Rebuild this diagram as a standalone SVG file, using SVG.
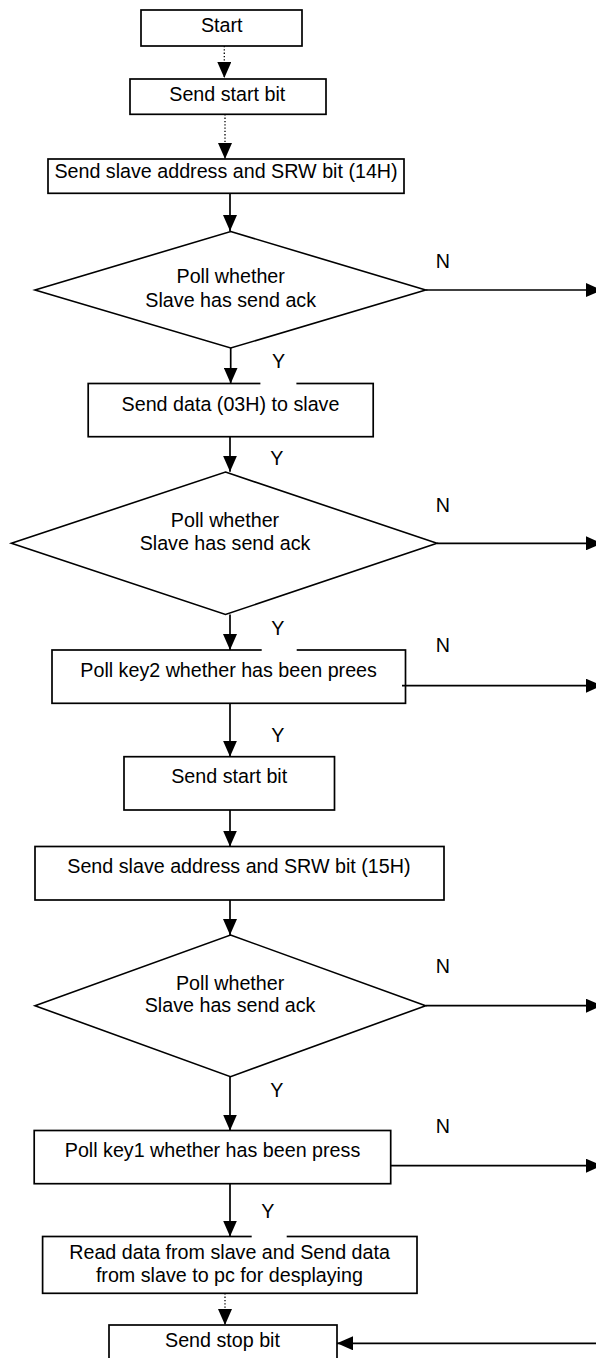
<svg xmlns="http://www.w3.org/2000/svg" width="596" height="1358" viewBox="0 0 596 1358">
<style>
.box{fill:#fff;stroke:#000;stroke-width:1.7}
.dia{fill:#fff;stroke:#000;stroke-width:1.6}
.t{font-family:"Liberation Sans",Arial,sans-serif;font-size:19.7px;fill:#000;text-anchor:middle}
.ln{fill:none;stroke:#000;stroke-width:1.7;marker-end:url(#ah)}
.dot{fill:none;stroke:#000;stroke-width:1.3;stroke-dasharray:1.3 2;marker-end:url(#ah)}
.gap{fill:#fff}
</style>
<defs>
<marker id="ah" markerUnits="userSpaceOnUse" markerWidth="16" markerHeight="14" refX="16" refY="7" orient="auto">
<path d="M0,0 L16,7 L0,14 z" fill="#000"/>
</marker>
</defs>
<rect width="596" height="1358" fill="#fff"/>
<g id="n-start"><rect class="box" x="141" y="10" width="161" height="36"/><text class="t" x="221.7" y="31.7">Start</text></g>
<g id="n-startbit1"><rect class="box" x="130" y="79" width="196" height="35.3"/><text class="t" x="227.3" y="100.7">Send start bit</text></g>
<g id="n-addr14"><rect class="box" x="48" y="159" width="356" height="34.3"/><text class="t" x="226" y="178.3">Send slave address and SRW bit (14H)</text></g>
<g id="n-ack1"><polygon class="dia" points="230.7,231.5 425.7,290 230.7,348 35,290"/><text class="t" x="230.7" y="283.3">Poll whether</text><text class="t" x="230.7" y="306.7">Slave has send ack</text></g>
<g id="n-data"><rect class="box" x="88.2" y="383.5" width="285" height="53.2"/><text class="t" x="230.5" y="410.7">Send data (03H) to slave</text></g>
<g id="n-ack2"><polygon class="dia" points="225.5,472 437,543.3 225.5,614.5 11.4,543.3"/><text class="t" x="225" y="526.7">Poll whether</text><text class="t" x="225" y="550">Slave has send ack</text></g>
<g id="n-key2"><rect class="box" x="52" y="650" width="353.5" height="53.3"/><text class="t" x="228.6" y="676.7">Poll key2 whether has been prees</text></g>
<g id="n-startbit2"><rect class="box" x="124" y="756.7" width="210.5" height="53.3"/><text class="t" x="229.2" y="783.3">Send start bit</text></g>
<g id="n-addr15"><rect class="box" x="35" y="846.5" width="409" height="53.5"/><text class="t" x="238.9" y="872.7">Send slave address and SRW bit (15H)</text></g>
<g id="n-ack3"><polygon class="dia" points="230.5,935 425.7,1005.7 230.5,1076.7 35,1005.7"/><text class="t" x="230.1" y="990">Poll whether</text><text class="t" x="230.1" y="1011.7">Slave has send ack</text></g>
<g id="n-key1"><rect class="box" x="34.2" y="1130.5" width="356.5" height="53.2"/><text class="t" x="212.5" y="1156.7">Poll key1 whether has been press</text></g>
<g id="n-read"><rect class="box" x="42.6" y="1236.5" width="374.4" height="56.8"/><text class="t" x="229.6" y="1259.3">Read data from slave and Send data</text><text class="t" x="229.4" y="1281.7">from slave to pc for desplaying</text></g>
<g id="n-stop"><rect class="box" x="109" y="1325" width="228" height="45"/><text class="t" x="222.5" y="1346.7">Send stop bit</text></g>
<g id="connectors">
<path class="dot" d="M224.3,46 V78"/>
<path class="dot" d="M225,114.3 V159"/>
<path class="ln" d="M230,193.3 V231"/>
<path class="ln" d="M425.7,290 H602"/>
<path class="ln" d="M230.7,348 V383.5"/>
<path class="ln" d="M230,436.7 V471.7"/>
<path class="ln" d="M437,543.3 H602"/>
<path class="ln" d="M230,614.5 V650"/>
<path class="ln" d="M402,685.7 H602"/>
<path class="ln" d="M230,703.3 V756.7"/>
<path class="ln" d="M230,810 V846.5"/>
<path class="ln" d="M230,900 V935"/>
<path class="ln" d="M425.7,1005.7 H602"/>
<path class="ln" d="M230,1076.7 V1130.5"/>
<path class="ln" d="M390.7,1165.7 H602"/>
<path class="ln" d="M230,1183.7 V1236.5"/>
<path class="dot" d="M225,1293.3 V1325"/>
<path class="ln" d="M600,1343.3 H337"/>
</g>
<g id="labels">
<text class="t" x="442.8" y="268.3">N</text>
<text class="t" x="278.6" y="367.7">Y</text>
<rect class="gap" x="260.4" y="382" width="36" height="3"/>
<text class="t" x="276.7" y="465">Y</text>
<text class="t" x="442.8" y="511.7">N</text>
<text class="t" x="277.7" y="635">Y</text>
<rect class="gap" x="261.7" y="648.5" width="35" height="3"/>
<text class="t" x="442.8" y="651.7">N</text>
<text class="t" x="277.7" y="741.7">Y</text>
<text class="t" x="442.8" y="973.3">N</text>
<text class="t" x="276.7" y="1096.7">Y</text>
<text class="t" x="442.8" y="1133.3">N</text>
<text class="t" x="267.7" y="1218.3">Y</text>
<rect class="gap" x="251.7" y="1235" width="35" height="3"/>
</g>
</svg>
